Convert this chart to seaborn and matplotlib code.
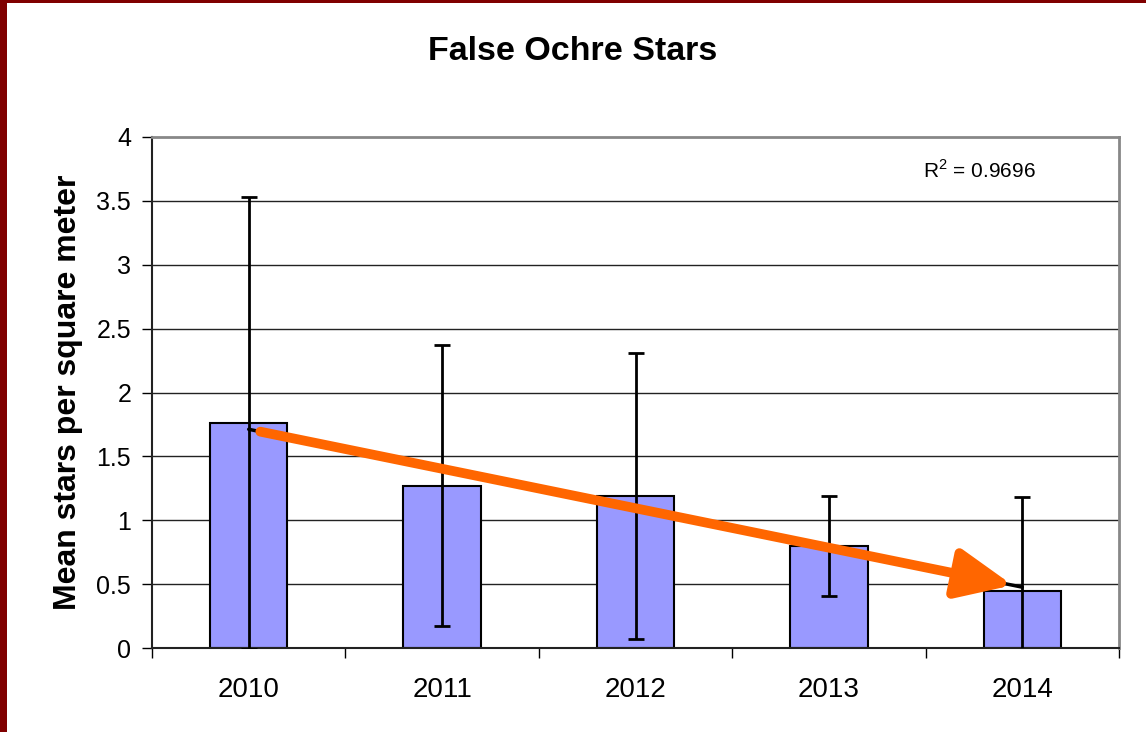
import numpy as np
import pandas as pd
import matplotlib
matplotlib.use("Agg")
import matplotlib.pyplot as plt
from matplotlib.patches import Rectangle
import seaborn as sns

# ── Data ─────────────────────────────────────────────
years = ["2010", "2011", "2012", "2013", "2014"]
mean_stars = [1.76, 1.27, 1.19, 0.80, 0.45]
err_stars = [1.77, 1.10, 1.12, 0.39, 0.73]
r2_label = "R$^2$ = 0.9696"

# ── Style ─────────────────────────────────────────────
sns.set_theme(style="white")
plt.rcParams["font.family"] = ["Liberation Sans", "DejaVu Sans"]
plt.rcParams["text.color"] = "black"
plt.rcParams["axes.labelcolor"] = "black"
plt.rcParams["xtick.color"] = "black"
plt.rcParams["ytick.color"] = "black"
plt.rcParams["mathtext.fontset"] = "custom"
plt.rcParams["mathtext.rm"] = "Liberation Sans"

df = pd.DataFrame({"year": years, "mean": mean_stars, "err": err_stars})

fig = plt.figure(figsize=(11.46, 7.32), dpi=100)
fig.patch.set_facecolor("white")
ax = fig.add_axes([152 / 1146, 84 / 732, 967 / 1146, 511 / 732])

# horizontal grid
for yv in np.arange(0.5, 4.0, 0.5):
    ax.axhline(yv, color="#222222", lw=1.0, zorder=0)

sns.barplot(data=df, x="year", y="mean", color="#9999FF", edgecolor="black",
            linewidth=1.5, width=0.4, saturation=1, ax=ax, zorder=2)
x = np.arange(len(years))
ax.errorbar(x, df["mean"], yerr=df["err"], fmt="none", ecolor="black",
            elinewidth=2, capsize=6, capthick=2, zorder=3)

# linear trend
slope, intercept = np.polyfit(x, df["mean"], 1)
ax.plot([0, 4], [intercept, intercept + 4 * slope], color="black", lw=2.5, zorder=4)

# orange arrow over the trend
x0, x1 = 0.06, 3.95
ax.annotate("", xy=(x1, intercept + slope * x1), xytext=(x0, intercept + slope * x0),
            arrowprops=dict(arrowstyle="-|>,head_length=2.8,head_width=1.25",
                            color="#FF6600", lw=7, shrinkA=0, shrinkB=0),
            zorder=5)

ax.text(0.856, 0.935, r2_label, transform=ax.transAxes, ha="center", va="center",
        fontsize=15)

ax.set_xlim(-0.5, 4.5)
ax.set_ylim(0, 4)
ax.set_yticks(np.arange(0, 4.01, 0.5))
ax.set_yticklabels(["0", "0.5", "1", "1.5", "2", "2.5", "3", "3.5", "4"], fontsize=18)
ax.set_xticks(x)
ax.set_xticklabels(years, fontsize=20)
ax.set_xticks(np.arange(-0.5, 4.6, 1), minor=True)
ax.tick_params(axis="x", which="major", length=0, pad=21)
ax.tick_params(axis="x", which="minor", length=7, width=1, color="black", direction="out", bottom=True)
ax.tick_params(axis="y", length=7, width=1, color="black", direction="out", left=True, pad=8)
ax.set_xlabel("")
ax.set_ylabel("Mean stars per square meter", fontsize=23, fontweight="bold", labelpad=10)

for side in ["left", "bottom"]:
    ax.spines[side].set_color("#222222")
    ax.spines[side].set_linewidth(1.5)
for side in ["top", "right"]:
    ax.spines[side].set_color("#888888")
    ax.spines[side].set_linewidth(2)

fig.text(0.5, 1 - 52 / 732, "False Ochre Stars", ha="center", va="center",
         fontsize=24.5, fontweight="bold")

# dark red frame on left and top
fig.patches.append(Rectangle((0, 0), 7 / 1146, 1, transform=fig.transFigure,
                             facecolor="#800000", edgecolor="none", zorder=10))
fig.patches.append(Rectangle((0, 1 - 3 / 732), 1, 3 / 732, transform=fig.transFigure,
                             facecolor="#800000", edgecolor="none", zorder=10))

fig.savefig("out.png", dpi=100)
